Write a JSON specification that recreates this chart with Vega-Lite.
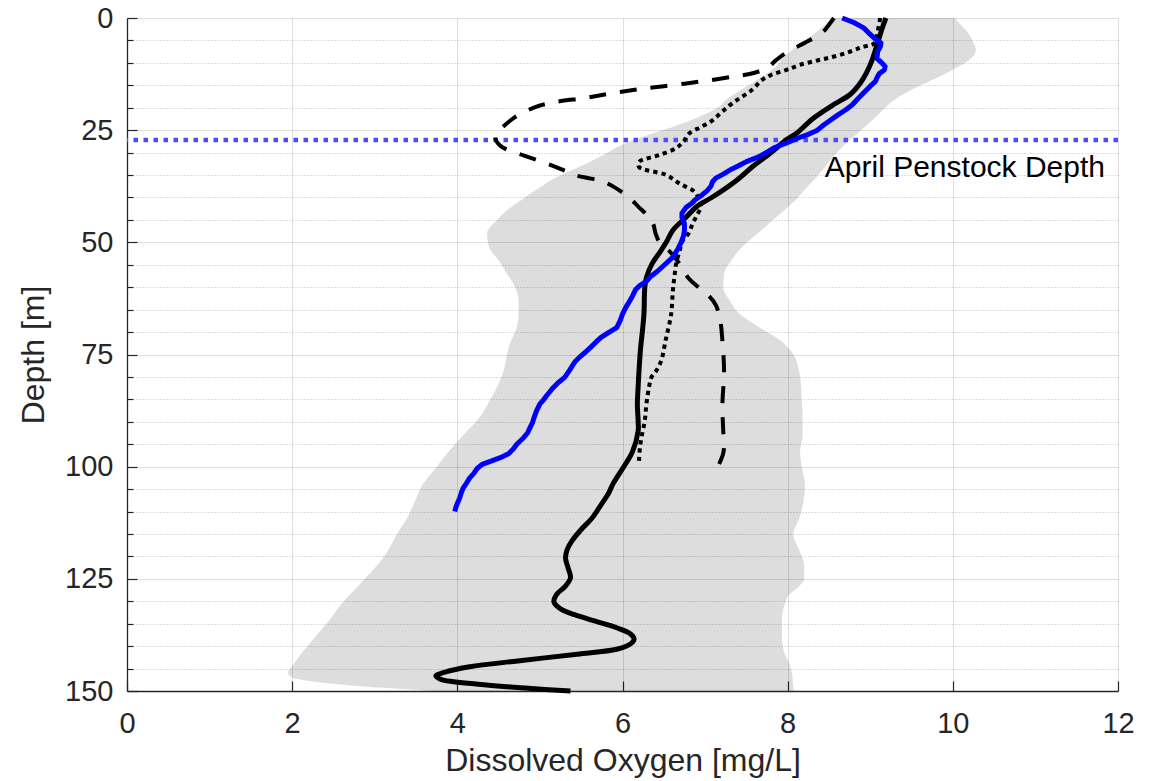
{
  "$schema": "https://vega.github.io/schema/vega-lite/v6.json",
  "autosize": "none",
  "width": 991,
  "height": 673,
  "padding": {"left": 127, "top": 18, "right": 45, "bottom": 90},
  "background": "white",
  "config": {
    "view": {"stroke": null},
    "font": "Liberation Sans",
    "axis": {
      "labelFont": "Liberation Sans",
      "titleFont": "Liberation Sans",
      "labelFontSize": 29,
      "titleFontSize": 32,
      "titleFontWeight": "normal",
      "labelColor": "#262626",
      "titleColor": "#262626",
      "domainColor": "#262626",
      "domainWidth": 1.3,
      "tickColor": "#262626",
      "tickWidth": 1.2,
      "labelOverlap": false,
      "labelFlush": false
    }
  },
  "datasets": {
    "env": [
      {"depth": 0, "lo": 8.55, "hi": 10.02},
      {"depth": 2, "lo": 8.42, "hi": 10.12},
      {"depth": 3.5, "lo": 8.32, "hi": 10.19},
      {"depth": 5.5, "lo": 8.16, "hi": 10.25},
      {"depth": 7, "lo": 8.06, "hi": 10.28},
      {"depth": 9, "lo": 7.93, "hi": 10.22},
      {"depth": 11, "lo": 7.85, "hi": 10.05},
      {"depth": 13, "lo": 7.7, "hi": 9.85},
      {"depth": 14.5, "lo": 7.57, "hi": 9.67},
      {"depth": 16, "lo": 7.44, "hi": 9.5},
      {"depth": 18, "lo": 7.27, "hi": 9.31},
      {"depth": 20, "lo": 7.15, "hi": 9.18},
      {"depth": 22, "lo": 6.93, "hi": 9.07},
      {"depth": 24, "lo": 6.65, "hi": 8.95},
      {"depth": 25.5, "lo": 6.4, "hi": 8.86},
      {"depth": 28, "lo": 6.02, "hi": 8.7},
      {"depth": 31, "lo": 5.72, "hi": 8.55},
      {"depth": 33, "lo": 5.5, "hi": 8.46},
      {"depth": 35.5, "lo": 5.2, "hi": 8.35},
      {"depth": 38, "lo": 4.98, "hi": 8.22},
      {"depth": 40.5, "lo": 4.78, "hi": 8.1},
      {"depth": 43, "lo": 4.59, "hi": 7.95},
      {"depth": 45, "lo": 4.48, "hi": 7.82},
      {"depth": 48, "lo": 4.36, "hi": 7.64},
      {"depth": 51, "lo": 4.38, "hi": 7.45},
      {"depth": 54, "lo": 4.5, "hi": 7.32},
      {"depth": 57, "lo": 4.6, "hi": 7.23},
      {"depth": 60, "lo": 4.7, "hi": 7.22},
      {"depth": 63, "lo": 4.74, "hi": 7.3},
      {"depth": 66, "lo": 4.74, "hi": 7.42},
      {"depth": 69, "lo": 4.72, "hi": 7.66},
      {"depth": 72, "lo": 4.65, "hi": 7.92},
      {"depth": 75, "lo": 4.6, "hi": 8.07},
      {"depth": 78, "lo": 4.57, "hi": 8.13},
      {"depth": 81.5, "lo": 4.5, "hi": 8.16},
      {"depth": 85, "lo": 4.4, "hi": 8.17},
      {"depth": 89, "lo": 4.27, "hi": 8.18},
      {"depth": 93, "lo": 4.07, "hi": 8.18},
      {"depth": 96.5, "lo": 3.9, "hi": 8.15},
      {"depth": 100, "lo": 3.75, "hi": 8.17},
      {"depth": 104, "lo": 3.58, "hi": 8.21},
      {"depth": 108, "lo": 3.48, "hi": 8.19},
      {"depth": 111.5, "lo": 3.39, "hi": 8.14},
      {"depth": 115, "lo": 3.27, "hi": 8.07},
      {"depth": 119, "lo": 3.15, "hi": 8.15},
      {"depth": 122, "lo": 3.03, "hi": 8.2},
      {"depth": 125, "lo": 2.88, "hi": 8.2},
      {"depth": 127, "lo": 2.78, "hi": 8.12},
      {"depth": 128.5, "lo": 2.7, "hi": 8.02},
      {"depth": 131, "lo": 2.58, "hi": 7.96},
      {"depth": 134, "lo": 2.46, "hi": 7.93},
      {"depth": 137.5, "lo": 2.3, "hi": 7.93},
      {"depth": 141, "lo": 2.14, "hi": 7.95},
      {"depth": 144, "lo": 2.02, "hi": 8.02},
      {"depth": 146, "lo": 1.95, "hi": 8.05},
      {"depth": 147, "lo": 2.0, "hi": 8.06},
      {"depth": 147.8, "lo": 2.23, "hi": 8.06},
      {"depth": 149.3, "lo": 3.1, "hi": 8.07},
      {"depth": 150, "lo": 3.71, "hi": 8.07}
    ],
    "penstock": [{"depth": 27.2}],
    "note": [{"do": 8.45, "depth": 35.5, "label": "April Penstock Depth"}],
    "dashed": [
      {"depth": 0, "do": 8.56}, {"depth": 1.5, "do": 8.5}, {"depth": 2.7, "do": 8.45},
      {"depth": 4, "do": 8.36}, {"depth": 5.6, "do": 8.2}, {"depth": 7.5, "do": 8.0},
      {"depth": 9.4, "do": 7.86}, {"depth": 11, "do": 7.76}, {"depth": 12.2, "do": 7.6},
      {"depth": 13.1, "do": 7.33}, {"depth": 14.2, "do": 6.93}, {"depth": 15.2, "do": 6.5},
      {"depth": 16, "do": 6.15}, {"depth": 17, "do": 5.8}, {"depth": 17.8, "do": 5.55},
      {"depth": 18.7, "do": 5.2}, {"depth": 19.5, "do": 5.0}, {"depth": 20.5, "do": 4.86},
      {"depth": 22.3, "do": 4.68}, {"depth": 24.3, "do": 4.55}, {"depth": 25.4, "do": 4.48},
      {"depth": 26.8, "do": 4.46}, {"depth": 28.3, "do": 4.51}, {"depth": 29.5, "do": 4.62},
      {"depth": 30.6, "do": 4.8}, {"depth": 32.4, "do": 5.08}, {"depth": 34, "do": 5.3},
      {"depth": 35, "do": 5.42}, {"depth": 35.8, "do": 5.62}, {"depth": 36.4, "do": 5.76},
      {"depth": 37.7, "do": 5.9}, {"depth": 40, "do": 6.08}, {"depth": 42.2, "do": 6.2},
      {"depth": 44, "do": 6.3}, {"depth": 45.8, "do": 6.37}, {"depth": 48, "do": 6.4},
      {"depth": 50, "do": 6.45}, {"depth": 52, "do": 6.57}, {"depth": 55, "do": 6.7},
      {"depth": 58, "do": 6.8}, {"depth": 60, "do": 6.92}, {"depth": 62, "do": 7.05},
      {"depth": 64, "do": 7.13}, {"depth": 67, "do": 7.18}, {"depth": 72, "do": 7.21},
      {"depth": 79, "do": 7.23}, {"depth": 86, "do": 7.21}, {"depth": 92, "do": 7.22},
      {"depth": 95, "do": 7.23}, {"depth": 97, "do": 7.22}, {"depth": 99.4, "do": 7.17}
    ],
    "dotted": [
      {"depth": 0, "do": 9.12}, {"depth": 3, "do": 9.09}, {"depth": 5.6, "do": 9.05},
      {"depth": 6.5, "do": 8.9}, {"depth": 7.6, "do": 8.74}, {"depth": 8.7, "do": 8.54},
      {"depth": 9.5, "do": 8.35}, {"depth": 10.5, "do": 8.14}, {"depth": 11.6, "do": 7.98},
      {"depth": 12.7, "do": 7.8}, {"depth": 13.8, "do": 7.69}, {"depth": 16, "do": 7.57},
      {"depth": 19, "do": 7.33}, {"depth": 21, "do": 7.2}, {"depth": 22.8, "do": 7.09},
      {"depth": 24.3, "do": 6.95}, {"depth": 25.7, "do": 6.81}, {"depth": 27.5, "do": 6.74},
      {"depth": 29, "do": 6.65}, {"depth": 30.5, "do": 6.45}, {"depth": 32.1, "do": 6.2},
      {"depth": 33.2, "do": 6.2}, {"depth": 35, "do": 6.53}, {"depth": 37, "do": 6.7},
      {"depth": 38.7, "do": 6.87}, {"depth": 40.6, "do": 6.93}, {"depth": 42, "do": 6.95},
      {"depth": 44, "do": 6.9}, {"depth": 45.8, "do": 6.85}, {"depth": 48, "do": 6.8},
      {"depth": 49.6, "do": 6.73}, {"depth": 52, "do": 6.69}, {"depth": 54.7, "do": 6.65},
      {"depth": 57.5, "do": 6.63}, {"depth": 60.7, "do": 6.61}, {"depth": 65.9, "do": 6.59},
      {"depth": 70.4, "do": 6.54}, {"depth": 72, "do": 6.52}, {"depth": 76.3, "do": 6.47},
      {"depth": 78.6, "do": 6.41}, {"depth": 80.1, "do": 6.35}, {"depth": 82.4, "do": 6.32},
      {"depth": 86, "do": 6.29}, {"depth": 89.7, "do": 6.27}, {"depth": 93.5, "do": 6.23},
      {"depth": 96, "do": 6.21}, {"depth": 98.7, "do": 6.2}, {"depth": 99.6, "do": 6.2}
    ],
    "solid": [
      {"depth": 0, "do": 9.19}, {"depth": 2, "do": 9.15}, {"depth": 5.5, "do": 9.09},
      {"depth": 9.5, "do": 9.02}, {"depth": 12, "do": 8.96}, {"depth": 14.5, "do": 8.88},
      {"depth": 17, "do": 8.76}, {"depth": 19.5, "do": 8.54}, {"depth": 22.5, "do": 8.3},
      {"depth": 25.5, "do": 8.12}, {"depth": 27.2, "do": 7.98}, {"depth": 30, "do": 7.8},
      {"depth": 33.2, "do": 7.57}, {"depth": 36.2, "do": 7.38}, {"depth": 39.9, "do": 7.09},
      {"depth": 42, "do": 6.9}, {"depth": 44.4, "do": 6.77}, {"depth": 47.3, "do": 6.61},
      {"depth": 50, "do": 6.53}, {"depth": 52, "do": 6.46}, {"depth": 54.7, "do": 6.36},
      {"depth": 57.8, "do": 6.29}, {"depth": 60, "do": 6.27}, {"depth": 65.9, "do": 6.26},
      {"depth": 70, "do": 6.24}, {"depth": 73.4, "do": 6.22}, {"depth": 78.6, "do": 6.2},
      {"depth": 82, "do": 6.19}, {"depth": 86, "do": 6.18}, {"depth": 90, "do": 6.19},
      {"depth": 92, "do": 6.19}, {"depth": 96.7, "do": 6.12}, {"depth": 99.3, "do": 6.04},
      {"depth": 104, "do": 5.88}, {"depth": 106, "do": 5.83}, {"depth": 108.5, "do": 5.74},
      {"depth": 111.5, "do": 5.63}, {"depth": 114, "do": 5.5}, {"depth": 116.5, "do": 5.39},
      {"depth": 118.5, "do": 5.33}, {"depth": 120.4, "do": 5.31}, {"depth": 122.5, "do": 5.34},
      {"depth": 124.8, "do": 5.37}, {"depth": 126.8, "do": 5.3}, {"depth": 128.5, "do": 5.2},
      {"depth": 130.2, "do": 5.17}, {"depth": 131.8, "do": 5.26}, {"depth": 133, "do": 5.42},
      {"depth": 134.5, "do": 5.68}, {"depth": 135.9, "do": 5.93}, {"depth": 137.3, "do": 6.1},
      {"depth": 138.5, "do": 6.14}, {"depth": 139.7, "do": 6.08}, {"depth": 140.7, "do": 5.93},
      {"depth": 141.8, "do": 5.45}, {"depth": 143.3, "do": 4.73}, {"depth": 144.6, "do": 4.15},
      {"depth": 145.8, "do": 3.85}, {"depth": 146.6, "do": 3.74}, {"depth": 147.4, "do": 3.8},
      {"depth": 148.5, "do": 4.25}, {"depth": 149.4, "do": 4.86}, {"depth": 150, "do": 5.37}
    ],
    "april": [
      {"depth": 0, "do": 8.66}, {"depth": 1, "do": 8.8}, {"depth": 2.2, "do": 8.92},
      {"depth": 3.3, "do": 8.98}, {"depth": 4.5, "do": 9.05}, {"depth": 5.6, "do": 9.13},
      {"depth": 6.5, "do": 9.12}, {"depth": 7.5, "do": 9.09}, {"depth": 9, "do": 9.08},
      {"depth": 10, "do": 9.14}, {"depth": 10.8, "do": 9.18}, {"depth": 11.6, "do": 9.17},
      {"depth": 12.4, "do": 9.11}, {"depth": 13, "do": 9.09}, {"depth": 14.2, "do": 9.06},
      {"depth": 15.2, "do": 9.0}, {"depth": 16.5, "do": 8.93}, {"depth": 18, "do": 8.85},
      {"depth": 19.4, "do": 8.78}, {"depth": 20.5, "do": 8.7}, {"depth": 21.7, "do": 8.6},
      {"depth": 23, "do": 8.5}, {"depth": 23.8, "do": 8.44}, {"depth": 25, "do": 8.36},
      {"depth": 26, "do": 8.24}, {"depth": 26.8, "do": 8.12}, {"depth": 27.9, "do": 7.98},
      {"depth": 28.8, "do": 7.85}, {"depth": 29.8, "do": 7.76}, {"depth": 31, "do": 7.64},
      {"depth": 32, "do": 7.5}, {"depth": 33, "do": 7.4}, {"depth": 33.9, "do": 7.3},
      {"depth": 34.8, "do": 7.22}, {"depth": 35.7, "do": 7.13}, {"depth": 36.5, "do": 7.09},
      {"depth": 37.5, "do": 7.07}, {"depth": 38.4, "do": 7.03}, {"depth": 39.5, "do": 6.96},
      {"depth": 40.5, "do": 6.88}, {"depth": 41.3, "do": 6.84}, {"depth": 42.2, "do": 6.77},
      {"depth": 43.5, "do": 6.72}, {"depth": 44.5, "do": 6.72}, {"depth": 45.8, "do": 6.75},
      {"depth": 47.3, "do": 6.75}, {"depth": 48.5, "do": 6.74}, {"depth": 50, "do": 6.71},
      {"depth": 51.5, "do": 6.67}, {"depth": 53.3, "do": 6.61}, {"depth": 55, "do": 6.51},
      {"depth": 56.5, "do": 6.42}, {"depth": 57.8, "do": 6.33}, {"depth": 58.5, "do": 6.3},
      {"depth": 59.5, "do": 6.22}, {"depth": 60.5, "do": 6.16}, {"depth": 62, "do": 6.12},
      {"depth": 63.3, "do": 6.08}, {"depth": 64.5, "do": 6.04}, {"depth": 66, "do": 6.0},
      {"depth": 67.5, "do": 5.97}, {"depth": 69, "do": 5.93}, {"depth": 70, "do": 5.84},
      {"depth": 71.2, "do": 5.74}, {"depth": 72.2, "do": 5.68}, {"depth": 73.3, "do": 5.62},
      {"depth": 74.5, "do": 5.55}, {"depth": 75.6, "do": 5.48}, {"depth": 76.5, "do": 5.43},
      {"depth": 77.6, "do": 5.39}, {"depth": 78.5, "do": 5.36}, {"depth": 80.1, "do": 5.3},
      {"depth": 81.3, "do": 5.22}, {"depth": 82.4, "do": 5.16}, {"depth": 83.3, "do": 5.12},
      {"depth": 84.2, "do": 5.08}, {"depth": 85.2, "do": 5.04}, {"depth": 86, "do": 5.0},
      {"depth": 87.5, "do": 4.96}, {"depth": 89, "do": 4.93}, {"depth": 90.2, "do": 4.91},
      {"depth": 91.3, "do": 4.88}, {"depth": 92.5, "do": 4.85}, {"depth": 93.6, "do": 4.8},
      {"depth": 95, "do": 4.72}, {"depth": 96, "do": 4.68}, {"depth": 97.1, "do": 4.62},
      {"depth": 98, "do": 4.52}, {"depth": 98.8, "do": 4.4}, {"depth": 99.5, "do": 4.3},
      {"depth": 100.4, "do": 4.24}, {"depth": 101.5, "do": 4.2}, {"depth": 102.5, "do": 4.15},
      {"depth": 103.7, "do": 4.11}, {"depth": 104.8, "do": 4.07}, {"depth": 105.7, "do": 4.05},
      {"depth": 106.9, "do": 4.03}, {"depth": 108.2, "do": 4.0}, {"depth": 109.2, "do": 3.98},
      {"depth": 110, "do": 3.97}
    ]
  },
  "encoding": {
    "y": {
      "field": "depth",
      "type": "quantitative",
      "scale": {"domain": [0, 150], "reverse": true, "nice": false, "zero": false},
      "axis": {
        "title": "Depth [m]",
        "values": [0, 5, 10, 15, 20, 25, 30, 35, 40, 45, 50, 55, 60, 65, 70, 75, 80, 85, 90, 95, 100, 105, 110, 115, 120, 125, 130, 135, 140, 145, 150],
        "labelExpr": "datum.value % 25 === 0 ? datum.label : ''",
        "tickSize": {"condition": {"test": "datum.value % 25 === 0", "value": -10}, "value": -6},
        "gridDash": {"condition": {"test": "datum.value % 25 === 0", "value": []}, "value": [1, 2]},
        "gridOpacity": {"condition": {"test": "datum.value % 25 === 0", "value": 0.15}, "value": 0.3},
        "gridColor": "#262626",
        "labelPadding": 24,
        "titlePadding": 14
      }
    }
  },
  "layer": [
    {
      "data": {"name": "env"},
      "mark": {"type": "area", "orient": "horizontal", "interpolate": "monotone", "color": "black", "opacity": 0.135},
      "encoding": {
        "x": {
          "field": "lo",
          "type": "quantitative",
          "scale": {"domain": [0, 12], "nice": false, "zero": false},
          "axis": {
            "title": "Dissolved Oxygen [mg/L]",
            "values": [0, 2, 4, 6, 8, 10, 12],
            "format": "d",
            "tickSize": -10,
            "gridColor": "#262626",
            "gridOpacity": 0.15,
            "labelPadding": 28,
            "titlePadding": 7
          }
        },
        "x2": {"field": "hi"}
      }
    },
    {
      "data": {"name": "penstock"},
      "mark": {"type": "rule", "color": "#4b4bff", "strokeWidth": 4.5, "strokeDash": [4.5, 5.5]},
      "encoding": {}
    },
    {
      "data": {"name": "note"},
      "mark": {"type": "text", "align": "left", "baseline": "alphabetic", "fontSize": 30, "font": "Liberation Sans", "color": "black"},
      "encoding": {
        "x": {"field": "do", "type": "quantitative"},
        "text": {"field": "label"}
      }
    },
    {
      "data": {"name": "dashed"},
      "mark": {"type": "line", "interpolate": "catmull-rom", "color": "black", "strokeWidth": 4, "strokeDash": [17, 14], "strokeJoin": "round"},
      "encoding": {
        "x": {"field": "do", "type": "quantitative"},
        "order": {"field": "depth", "type": "quantitative"}
      }
    },
    {
      "data": {"name": "dotted"},
      "mark": {"type": "line", "interpolate": "catmull-rom", "color": "black", "strokeWidth": 4, "strokeDash": [4.3, 4], "strokeJoin": "round"},
      "encoding": {
        "x": {"field": "do", "type": "quantitative"},
        "order": {"field": "depth", "type": "quantitative"}
      }
    },
    {
      "data": {"name": "solid"},
      "mark": {"type": "line", "interpolate": "catmull-rom", "color": "black", "strokeWidth": 5, "strokeJoin": "round"},
      "encoding": {
        "x": {"field": "do", "type": "quantitative"},
        "order": {"field": "depth", "type": "quantitative"}
      }
    },
    {
      "data": {"name": "april"},
      "mark": {"type": "line", "color": "#0000ff", "strokeWidth": 5, "strokeJoin": "round"},
      "encoding": {
        "x": {"field": "do", "type": "quantitative"},
        "order": {"field": "depth", "type": "quantitative"}
      }
    }
  ]
}
